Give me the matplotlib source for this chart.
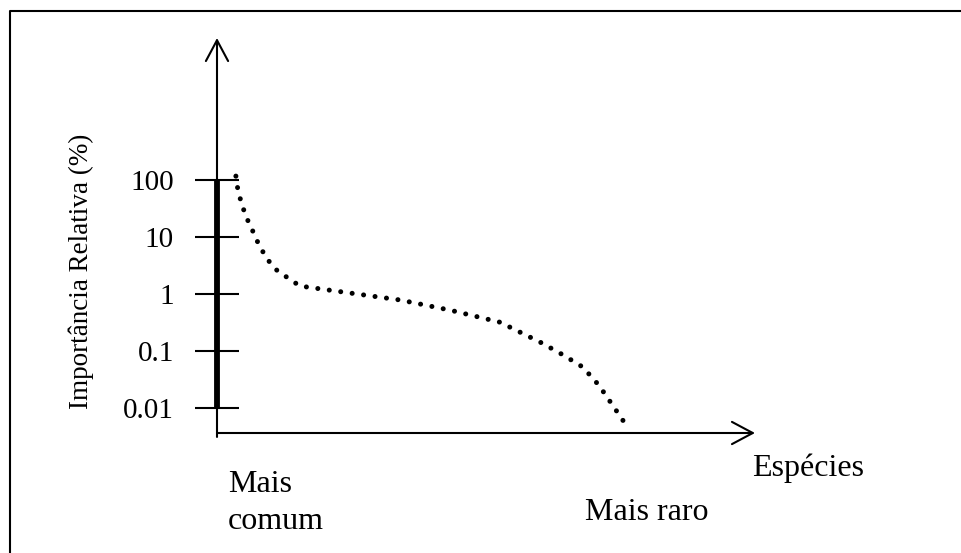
import matplotlib
matplotlib.use("Agg")
import matplotlib.pyplot as plt
from matplotlib.lines import Line2D

plt.rcParams['font.family'] = ['Liberation Serif', 'DejaVu Serif']

# tick positions on the log axis and their labels
tick_values = [100, 10, 1, 0.1, 0.01]
tick_labels = ["100", "10", "1", "0.1", "0.01"]

# species rank (1 = most common) and relative importance (%)
rank = [4.6, 5.1, 6.1, 7.3, 8.8, 10.2, 12.2, 14.6, 17.8, 20.2, 32.4, 44.6,
        56.8, 68.9, 79.1, 84.3, 89.1, 93.0, 96.4, 99.8]
importance = [117, 66, 36, 21, 12.3, 7.3, 4.1, 2.6, 1.8, 1.38, 1.04, 0.785,
              0.52, 0.32, 0.138, 0.085, 0.052, 0.025, 0.011, 0.0048]

W, H = 961, 553
fig = plt.figure(figsize=(W / 100, H / 100), dpi=100)

# axes box: from the origin (217, 433) up to the arrow tips
x0, x1 = 217, 755
y0, y1 = 433, 38
ax = fig.add_axes([x0 / W, 1 - y0 / H, (x1 - x0) / W, (y0 - y1) / H])
ax.set_yscale('log')
decade = 57.0  # pixels per decade
ax.set_ylim(10 ** (-2 - (y0 - 408) / decade), 10 ** (2 + (180 - y1) / decade))
ax.set_xlim(0, 131)

for s in ax.spines.values():
    s.set_visible(False)
ax.set_xticks([])
ax.yaxis.set_minor_locator(matplotlib.ticker.NullLocator())
ax.set_yticks(tick_values, tick_labels)
ax.tick_params(axis='y', direction='inout', length=31, width=1.5, pad=15.5,
               labelsize=21)

# axes drawn as arrows
arrow = dict(arrowstyle='->,head_length=1.5,head_width=0.8', lw=1.5,
             color='black', shrinkA=0, shrinkB=0, mutation_scale=10)
ax.annotate('', xy=(0.0, 1.0), xytext=(0.0, -0.01), xycoords='axes fraction',
            arrowprops=arrow)
ax.annotate('', xy=(1.0, 0.0), xytext=(0.0, 0.0), xycoords='axes fraction',
            arrowprops=arrow)

# thick bar along the y axis over the labelled range
ax.plot([0, 0], [min(tick_values), max(tick_values)], color='black', lw=4.2,
        solid_capstyle='butt', clip_on=False)

# rank-abundance curve
ax.plot(rank, importance, color='black', lw=3.6, linestyle=(0, (0.01, 2.3)),
        dash_capstyle='round', clip_on=False)

fig.text(81 / W, 1 - 271 / H, "Importância Relativa (%)", rotation=90,
         ha='center', va='center', fontsize=19.5)
fig.text(752 / W, 1 - 476 / H, "Espécies", ha='left', va='baseline', fontsize=23)
fig.text(228 / W, 1 - 492 / H, "Mais", ha='left', va='baseline', fontsize=23)
fig.text(228 / W, 1 - 529 / H, "comum", ha='left', va='baseline', fontsize=23)
fig.text(585 / W, 1 - 520 / H, "Mais raro", ha='left', va='baseline', fontsize=23)

# frame (only left and top edges fall inside the picture)
fig.add_artist(Line2D([10 / W, 10 / W, 1.0], [0.0, 1 - 11 / H, 1 - 11 / H],
                      transform=fig.transFigure, color='black', lw=1.5))

fig.savefig("out.png", dpi=100)
